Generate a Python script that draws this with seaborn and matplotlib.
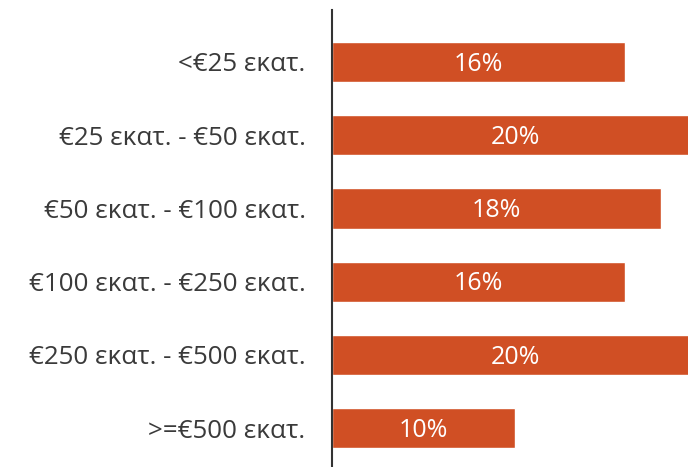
import matplotlib
matplotlib.use("Agg")
import matplotlib.pyplot as plt
import seaborn as sns
import pandas as pd

categories = [
    "<€25 εκατ.",
    "€25 εκατ. - €50 εκατ.",
    "€50 εκατ. - €100 εκατ.",
    "€100 εκατ. - €250 εκατ.",
    "€250 εκατ. - €500 εκατ.",
    ">=€500 εκατ.",
]
shares = [16, 20, 18, 16, 20, 10]
value_labels = ["16%", "20%", "18%", "16%", "20%", "10%"]

BAR_COLOR = "#D04F24"
TEXT_COLOR = "#3a3a3a"

sns.set_theme(style="white")
plt.rcParams["font.family"] = ["Open Sans", "DejaVu Sans"]

df = pd.DataFrame({"category": categories, "share": shares})

fig = plt.figure(figsize=(6.88, 4.67), dpi=100)
ax = fig.add_axes([332 / 688, 0.0, 356 / 688, 1 - 10 / 467])

sns.barplot(data=df, x="share", y="category", color=BAR_COLOR,
            width=0.55, saturation=1, ax=ax)

ax.set_xlim(0, 19.45)
ax.set_ylim(5.53, -0.71)

for i, (v, lab) in enumerate(zip(shares, value_labels)):
    ax.text(v / 2, i + 0.03, lab, ha="center", va="center", color="white",
            fontsize=18, clip_on=False)

ax.set_xlabel("")
ax.set_ylabel("")
ax.set_xticks([])
ax.tick_params(axis="y", length=0, pad=19, labelsize=18.7, labelcolor=TEXT_COLOR)
for s in ["top", "right", "bottom"]:
    ax.spines[s].set_visible(False)
ax.spines["left"].set_color("#333333")
ax.spines["left"].set_linewidth(1.5)
ax.set_zorder(1)

fig.savefig("out.png", dpi=100)
